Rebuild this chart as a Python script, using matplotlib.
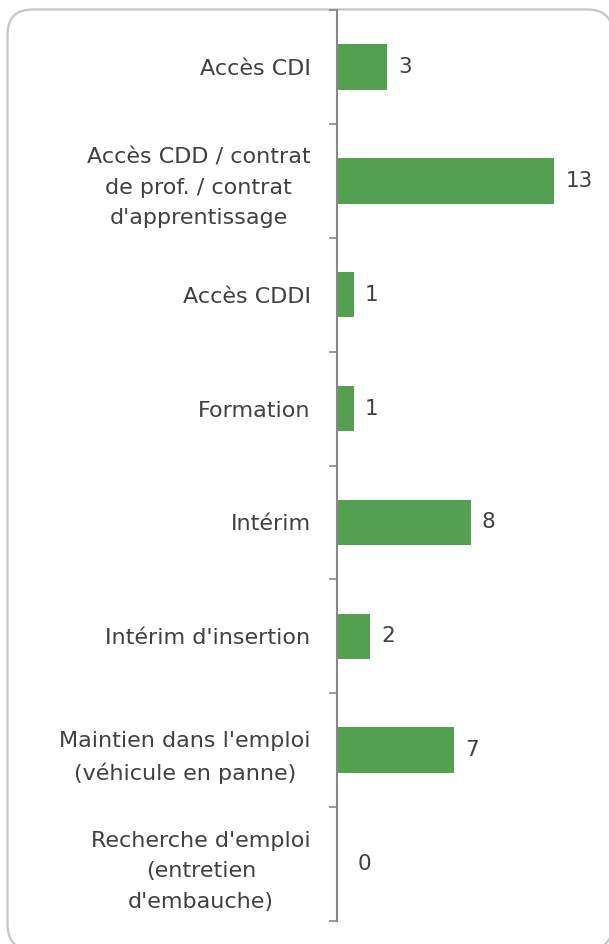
import matplotlib
matplotlib.use("Agg")
import matplotlib.pyplot as plt
from matplotlib.patches import FancyBboxPatch
import numpy as np

categories = [
    "Accès CDI",
    "Accès CDD / contrat\nde prof. / contrat\nd'apprentissage",
    "Accès CDDI",
    "Formation",
    "Intérim",
    "Intérim d'insertion",
    "Maintien dans l'emploi\n(véhicule en panne)",
    "Recherche d'emploi\n(entretien\nd'embauche)",
]
values = [3, 13, 1, 1, 8, 2, 7, 0]

W, H = 609, 944
fig = plt.figure(figsize=(W / 100, H / 100), dpi=100)
fig.patch.set_facecolor("white")

# background axes in pixel coordinates for the rounded border
bg = fig.add_axes([0, 0, 1, 1])
bg.set_xlim(0, W)
bg.set_ylim(0, H)
bg.axis("off")
bg.add_patch(FancyBboxPatch((7.5, H - 949.5), 605, 940,
                            boxstyle="round,pad=0,rounding_size=25",
                            facecolor="white", edgecolor="#C6C6C6",
                            linewidth=1.6, clip_on=False))

ax_left, ax_right = 337, 609
ax_top, ax_bottom = 10, 921
ax = fig.add_axes([ax_left / W, 1 - ax_bottom / H, (ax_right - ax_left) / W,
                   (ax_bottom - ax_top) / H])
ax.set_facecolor("none")

n = len(categories)
y = np.arange(n)
ax.barh(y, values, height=0.4, color="#52A050", edgecolor="none")
ax.set_ylim(n - 0.5, -0.5)
ax.set_xlim(0, (ax_right - ax_left) / 16.7)

for yi, v in zip(y, values):
    ax.annotate(str(v), (v, yi), xytext=(8 if v > 0 else 15, 0),
                textcoords="offset points",
                ha="left", va="center", fontsize=15.5, color="#404040")

ax.set_yticks(y)
ax.set_yticklabels(categories, fontsize=16, color="#404040",
                   multialignment="center", linespacing=1.65)
ax.tick_params(axis="y", which="major", length=0, pad=19)
ax.set_yticks(np.arange(-0.5, n, 1.0), minor=True)
ax.tick_params(axis="y", which="minor", length=6, width=1.2, color="#888888",
               direction="out")
ax.set_xticks([])

for s in ["top", "right", "bottom"]:
    ax.spines[s].set_visible(False)
ax.spines["left"].set_color("#888888")
ax.spines["left"].set_linewidth(1.5)

fig.savefig("out.png", dpi=100, facecolor="white")
